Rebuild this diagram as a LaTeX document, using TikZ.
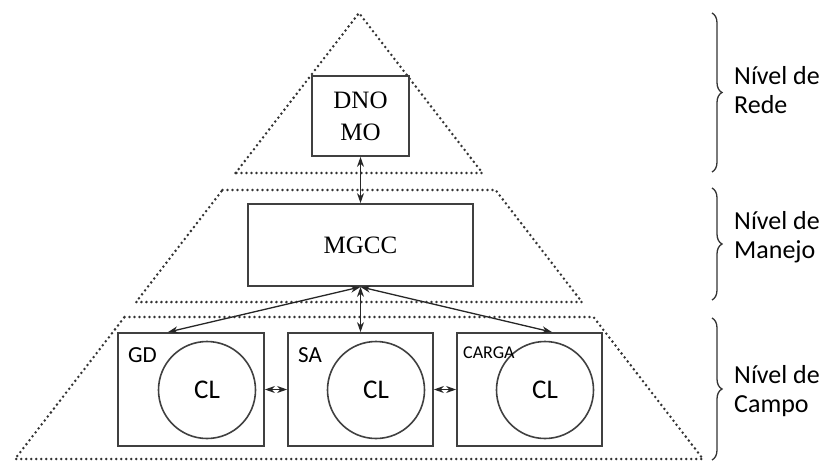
\documentclass[tikz,border=0pt]{standalone}
\usepackage{fontspec}
\setmainfont{Liberation Serif}
\newfontfamily\calfont{Carlito}
\usepackage{tikz}
\usetikzlibrary{positioning,arrows.meta,calc,decorations.pathreplacing}
\definecolor{piredge}{HTML}{333333}
\definecolor{pirbox}{HTML}{404040}

\begin{document}
\begin{tikzpicture}[
  x=1pt, y=-1pt,
  dots/.style={draw=piredge, line width=2.8pt, line cap=round, dash pattern=on 0pt off 5pt},
  lvlbox/.style={draw=pirbox, line width=1.8pt, inner sep=0pt, align=center},
  cl/.style={circle, draw=pirbox, line width=1.6pt, minimum size=97pt, inner sep=0pt,
             font=\calfont\fontsize{27}{30}\selectfont},
  tag/.style={inner sep=0pt, anchor=base west, font=\calfont\fontsize{23}{26}\selectfont},
  arr/.style={{Stealth[length=10pt,width=7pt]}-{Stealth[length=10pt,width=7pt]}, line width=1.3pt, draw=black!85},
  brc/.style={decorate, decoration={brace, amplitude=10pt}, draw=black!80, line width=1.3pt},
  lvl/.style={anchor=west, align=left, inner sep=0pt, font=\calfont\fontsize{26}{29}\selectfont},
]
\useasboundingbox (0,0) rectangle (829,461);
% pyramid outline
\coordinate (apex) at (359,13);
\coordinate (bl) at (15,459);
\coordinate (br) at (703,459);
\coordinate (l1) at ($(apex)!0.3587!(bl)$);
\coordinate (r1) at ($(apex)!0.3587!(br)$);
\coordinate (l2) at ($(apex)!0.3969!(bl)$);
\coordinate (r2) at ($(apex)!0.3969!(br)$);
\coordinate (l3) at ($(apex)!0.648!(bl)$);
\coordinate (r3) at ($(apex)!0.648!(br)$);
\coordinate (l4) at ($(apex)!0.6816!(bl)$);
\coordinate (r4) at ($(apex)!0.6816!(br)$);
\draw[dots] (l1) -- (apex) -- (r1) -- cycle;
\draw[dots] (l2) -- (r2) -- (r3) -- (l3) -- cycle;
\draw[dots] (l4) -- (r4) -- (br) -- (bl) -- cycle;
% network level
\node[lvlbox, minimum width=97pt, minimum height=80pt, font=\fontsize{25}{32}\selectfont] (dno) at (360.5,116) {DNO\\MO};
% management level
\node[lvlbox, minimum width=225pt, minimum height=82pt, font=\fontsize{25}{30}\selectfont] (mgcc) at (360.5,245) {MGCC};
% field level
\node[lvlbox, minimum width=146pt, minimum height=113pt] (gd)    at (191,389.5) {};
\node[lvlbox, minimum width=145pt, minimum height=113pt] (sa)    at (360.5,389.5) {};
\node[lvlbox, minimum width=145pt, minimum height=113pt] (carga) at (529.5,389.5) {};
\node[cl] (cl1) at (207,390) {CL};
\node[cl] (cl2) at (376,390) {CL};
\node[cl] (cl3) at (545,390) {CL};
\node[tag] (gdtag) at (128,362) {GD};
\node[tag] (satag) at (298,362) {SA};
\node[tag, font=\calfont\fontsize{18}{20}\selectfont] (cargatag) at (463,358) {CARGA};

\draw[arr] (dno.south) -- (mgcc.north);
\draw[arr] (mgcc.south) -- ([xshift=-23pt]gd.north);
\draw[arr] (mgcc.south) -- (sa.north);
\draw[arr] (mgcc.south) -- ([xshift=22.5pt]carga.north);
\draw[arr] (gd.east) -- (sa.west);
\draw[arr] (sa.east) -- (carga.west);
% level braces
\coordinate (b1t) at (712,13);
\coordinate (b1b) at (712,172);
\coordinate (b2t) at (712,188);
\coordinate (b2b) at (712,300);
\coordinate (b3t) at (712,318);
\coordinate (b3b) at (712,460);
\draw[brc] (b1t) -- (b1b);
\draw[brc] (b2t) -- (b2b);
\draw[brc] (b3t) -- (b3b);
\node[lvl] (rede)   at (734,90)  {Nível de\\Rede};
\node[lvl] (manejo) at (734,237) {Nível de\\Manejo};
\node[lvl] (campo)  at (734,391) {Nível de\\Campo};
\end{tikzpicture}
\end{document}
